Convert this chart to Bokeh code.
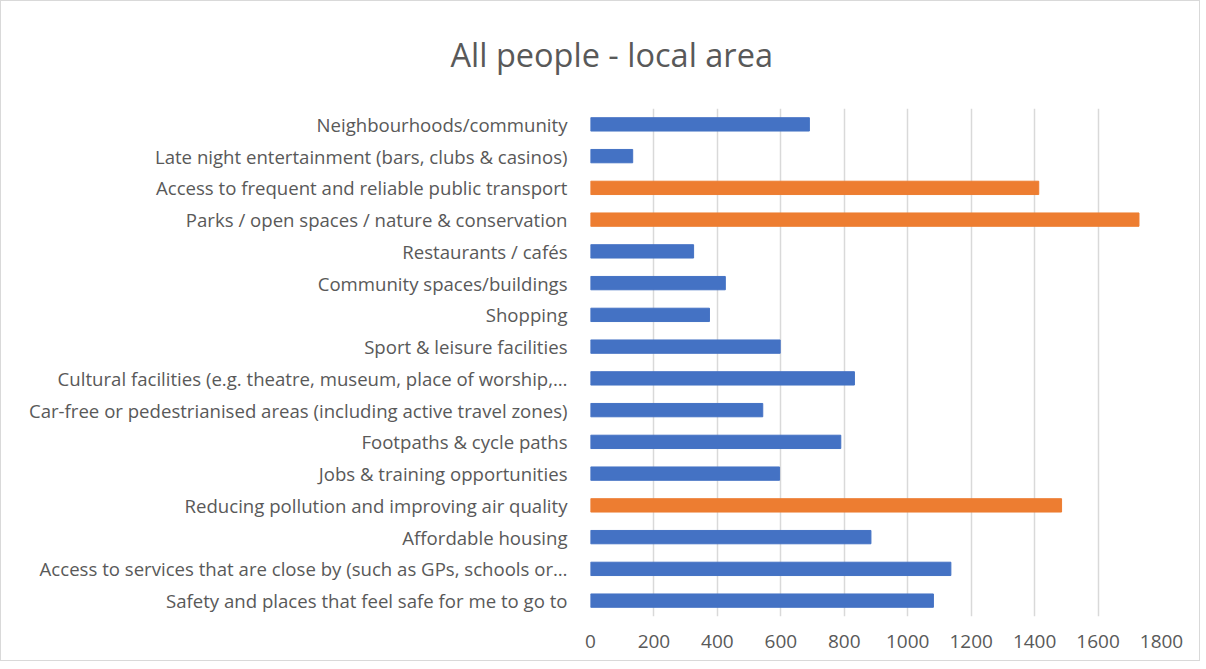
from bokeh.plotting import figure
from bokeh.models import ColumnDataSource, FactorRange, Range1d, FixedTicker
from bokeh.embed import file_html
from bokeh.resources import INLINE

# Data (top of chart first)
title_text = "All people - local area"
categories = [
    "Neighbourhoods/community",
    "Late night entertainment (bars, clubs & casinos)",
    "Access to frequent and reliable public transport",
    "Parks / open spaces / nature & conservation",
    "Restaurants / cafés",
    "Community spaces/buildings",
    "Shopping",
    "Sport & leisure facilities",
    "Cultural facilities (e.g. theatre, museum, place of worship,…",
    "Car-free or pedestrianised areas (including active travel zones)",
    "Footpaths & cycle paths",
    "Jobs & training opportunities",
    "Reducing pollution and improving air quality",
    "Affordable housing",
    "Access to services that are close by (such as GPs, schools or…",
    "Safety and places that feel safe for me to go to",
]
values = [690, 133, 1413, 1729, 325, 425, 375, 598, 832, 543, 789, 596, 1485, 884, 1136, 1081]
highlighted = [
    "Access to frequent and reliable public transport",
    "Parks / open spaces / nature & conservation",
    "Reducing pollution and improving air quality",
]
x_ticks = [0, 200, 400, 600, 800, 1000, 1200, 1400, 1600, 1800]

BLUE = "#4472C4"
ORANGE = "#ED7D31"
TEXT = "#595959"
FONT = "Open Sans"

colors = [ORANGE if c in highlighted else BLUE for c in categories]
source = ColumnDataSource(dict(category=categories, value=values, color=colors))

factors = list(reversed(categories))

p = figure(
    width=1200, height=661,
    y_range=FactorRange(factors=factors),
    x_range=Range1d(0, 1800),
    output_backend="svg", toolbar_location=None,
    min_border_left=589, min_border_right=40, min_border_top=107, min_border_bottom=46,
)
p.styles = {"border": "1px solid #d9d9d9"}

p.hbar(y="category", left=0, right="value", height=0.42, color="color", source=source)

p.title.text = title_text
p.title.align = "left"
p.title.offset = -140
p.title.vertical_align = "top"
p.title.text_font = FONT
p.title.text_font_size = "32.5px"
p.title.text_font_style = "normal"
p.title.text_color = TEXT
p.title.standoff = 60

p.outline_line_color = None
p.ygrid.grid_line_color = None
p.xgrid.grid_line_color = "#d9d9d9"
p.xgrid.grid_line_width = 1.5
p.xaxis.ticker = FixedTicker(ticks=x_ticks)

for ax in (p.xaxis[0], p.yaxis[0]):
    ax.axis_line_color = None
    ax.major_tick_line_color = None
    ax.minor_tick_line_color = None
    ax.major_label_text_color = TEXT
    ax.major_label_text_font = FONT

p.yaxis.major_label_text_font_size = "18.6px"
p.yaxis.major_label_standoff = 17
p.xaxis.major_label_text_font_size = "19px"
p.xaxis.major_label_standoff = 12

open("out.html", "w").write(file_html(p, INLINE))
